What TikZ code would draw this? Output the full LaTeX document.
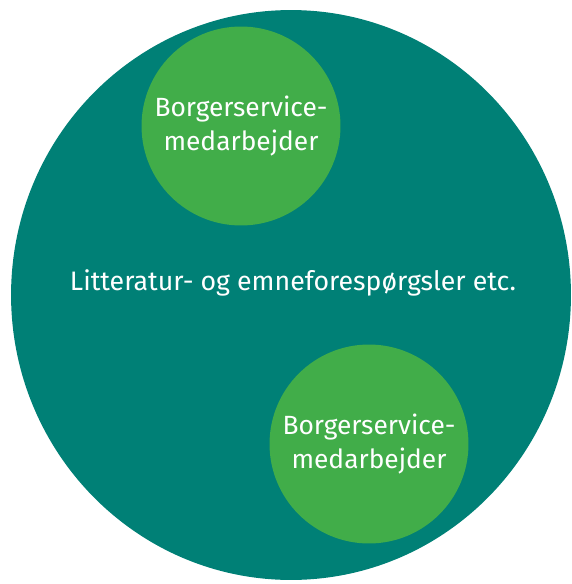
\documentclass[tikz,border=0pt]{standalone}
\usepackage{fontspec}
\usetikzlibrary{shapes.geometric}
\setmainfont{Fira Sans}
\definecolor{teal}{RGB}{0,128,118}
\definecolor{lysgroen}{RGB}{65,173,73}
\begin{document}
\begin{tikzpicture}[x=0.02cm,y=-0.02cm,
	stor/.style={ellipse,fill=teal,minimum width=11.2cm,minimum height=11.4cm,inner sep=0pt},
	lille/.style={circle,fill=lysgroen,minimum size=3.98cm,inner sep=0pt,text=white,align=center,font=\fontsize{15}{19.8}\selectfont}]
	
	\useasboundingbox (0,0) rectangle (571,584);
	
	\node[stor] (emne) at (291,295) {};
	\node[text=white,font=\fontsize{15.2}{18}\selectfont] (tekst) at (293,283) {Litteratur- og emneforespørgsler etc.};
	
	\node[lille] (bs1) at (241,126) {Borgerservice-\\medarbejder};
	\node[lille] (bs2) at (369,444) {Borgerservice-\\medarbejder};
	
\end{tikzpicture}
\end{document}
